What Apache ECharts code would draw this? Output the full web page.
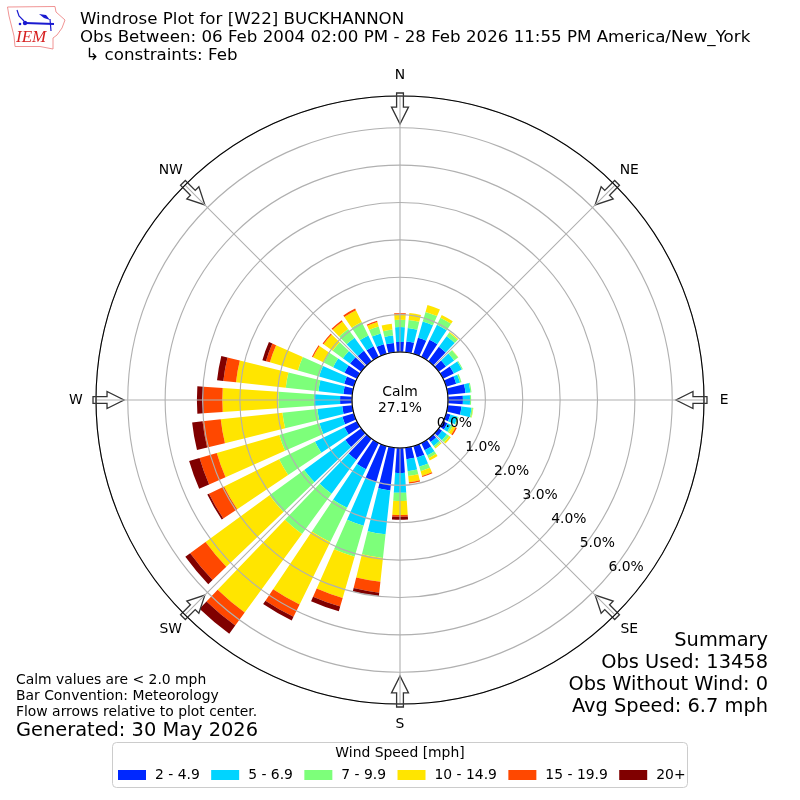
<!DOCTYPE html>
<html><head><meta charset="utf-8">
<style>html,body{margin:0;padding:0;background:#fff}#c{width:800px;height:800px}</style>
<script src="https://cdn.jsdelivr.net/npm/echarts@6/dist/echarts.min.js"></script>
</head><body><div id="c"></div>
<script>
const directions = [0,10,20,30,40,50,60,70,80,90,100,110,120,130,140,150,160,170,180,190,200,210,220,230,240,250,260,270,280,290,300,310,320,330,340,350];
const speedBins = ['2 - 4.9','5 - 6.9','7 - 9.9','10 - 14.9','15 - 19.9','20+'];
const binColors = ['#0028ff','#00d4ff','#7dff7a','#ffe500','#ff4800','#800000'];
const bin1 = [.27,.29,.45,.51,.48,.24,.32,.28,.48,.40,.37,.12,.13,.11,.11,.21,.32,.31,.67,1.15,1.00,.78,.70,.53,.37,.32,.27,.32,.24,.27,.37,.37,.35,.32,.27,.25];
const bin2 = [.40,.36,.45,.45,.35,.27,.24,.11,.13,.19,.27,.20,.11,.16,.13,.16,.25,.32,.53,1.18,1.22,1.15,1.12,1.36,.88,.64,.67,.70,.67,.70,.34,.24,.43,.32,.30,.20];
const bin3 = [.19,.22,.27,.21,.11,.13,.03,.04,.03,.03,.04,.03,.05,.08,.05,.08,.13,.13,.22,.64,.86,1.02,1.34,1.15,1.07,1.12,.94,.95,.88,.59,.28,.34,.29,.40,.19,.16];
const bin4 = [.15,.19,.19,.08,.03,.01,0,0,0,0,.01,0,.08,.05,.03,.07,.13,.17,.37,.64,1.15,1.86,2.60,2.12,1.64,1.74,1.66,1.50,1.34,.78,.32,.30,.25,.35,.13,.16];
const bin5 = [.03,0,0,0,0,0,0,0,0,0,0,0,.04,0,0,0,.03,.03,.05,.29,.24,.37,.43,.51,.45,.48,.49,.51,.34,.11,.03,.03,.04,.05,.03,0];
const bin6 = [0,0,0,0,0,0,0,0,0,0,0,0,0,0,0,0,0,0,.08,.09,.13,.11,.27,.16,.05,.29,.28,.17,.17,.10,0,0,0,0,0,0];
const ringTicks = [0,1,2,3,4,5,6];
const ringLabelAngle = 130;
const compassAngles = [0,45,90,135,180,225,270,315];
const compassNames = ['N','NE','E','SE','S','SW','W','NW'];
const titleLines = ['Windrose Plot for [W22] BUCKHANNON','Obs Between: 06 Feb 2004 02:00 PM - 28 Feb 2026 11:55 PM America/New_York',' \u21b3 constraints: Feb'];
const summaryLines = ['Summary','Obs Used: 13458','Obs Without Wind: 0','Avg Speed: 6.7 mph'];
const noteLines = ['Calm values are < 2.0 mph','Bar Convention: Meteorology','Flow arrows relative to plot center.'];

const FONT = 'DejaVu Sans';
const rMax = 6.85;
const compassLabelRadius = 7.39;
const bins = [bin1,bin2,bin3,bin4,bin5,bin6];
const grey = '#b0b0b0';

const barSeries = bins.map((vals,i)=>({
  type:'bar', name:speedBins[i], coordinateSystem:'polar', stack:'wind',
  barWidth:'77%', z:2, silent:true,
  itemStyle:{color:binColors[i]},
  data:vals.map((v,j)=>[v,directions[j]])
}));

const arrowSeries = {
  type:'custom', coordinateSystem:'polar', z:3, silent:true, clip:false,
  encode:{radius:0,angle:1},
  data:compassAngles.map(a=>[rMax,a]),
  renderItem(params,api){
    const a=api.value(1);
    const base=api.coord([rMax+0.08,a]);
    const tip=api.coord([rMax-0.75,a]);
    const dx=tip[0]-base[0], dy=tip[1]-base[1], L=Math.hypot(dx,dy);
    const ux=dx/L, uy=dy/L, px=-uy, py=ux;
    const sh=3.4, hw=8.5, sl=L-17;
    const P=(al,w)=>[base[0]+ux*al+px*w, base[1]+uy*al+py*w];
    return {type:'polygon',shape:{points:[P(0,-sh),P(sl,-sh),P(sl,-hw),P(L,0),P(sl,hw),P(sl,sh),P(0,sh)]},
      style:{fill:'rgba(255,255,255,0.75)',stroke:'#333',lineWidth:1.3}};
  }
};

const labelBase={show:true,position:'inside',align:'center',verticalAlign:'middle',fontFamily:FONT,fontSize:13.9,color:'#000',opacity:1};
const ringLabelSeries = {
  type:'scatter', coordinateSystem:'polar', z:8, silent:true, symbolSize:0, itemStyle:{opacity:1},
  data:ringTicks.map(t=>[t,ringLabelAngle]),
  label:Object.assign({},labelBase,{offset:[17.5,-7.5],formatter:p=>p.value[0].toFixed(1)+'%'})
};
const compassLabelSeries = {
  type:'scatter', coordinateSystem:'polar', z:8, silent:true, symbolSize:0, itemStyle:{opacity:1}, clip:false,
  data:compassAngles.map(a=>[compassLabelRadius,a]),
  label:Object.assign({},labelBase,{formatter:p=>compassNames[p.dataIndex]})
};

const txt=(x,y,t,size,extra)=>({type:'text',x,y,z:20,silent:true,
  style:Object.assign({text:t,fontFamily:FONT,fontSize:size,fill:'#000',verticalAlign:'middle',align:'left'},extra||{})});

const graphics=[
  {type:'rect',shape:{x:112.5,y:742.5,width:575,height:45,r:4},style:{fill:'#fff',stroke:'#ccc',lineWidth:1},z:1,silent:true},
  txt(400,753.5,'Wind Speed [mph]',13.9,{align:'center'}),
  txt(400,392,'Calm',13.9,{align:'center'}),
  txt(400,408,'27.1%',13.9,{align:'center'}),
  // logo
  {type:'polygon',z:20,silent:true,shape:{points:[[7.5,7],[55,6.5],[56,12],[65,20],[62,28],[57,35],[53,38],[53,49],[40,46.5],[15,46.5],[14,36],[11.5,26],[9,16]]},
    style:{fill:'#fff',stroke:'#e88',lineWidth:0.9}},
  {type:'polyline',z:21,silent:true,shape:{points:[[25,23],[54,24]]},style:{stroke:'#1a1ad0',lineWidth:1.8,fill:'none'}},
  {type:'polyline',z:21,silent:true,shape:{points:[[17,10],[19,16],[24,21]]},style:{stroke:'#1a1ad0',lineWidth:1.2,fill:'none'}},
  {type:'polygon',z:21,silent:true,shape:{points:[[39,14],[46,15],[50,20],[44,18]]},style:{fill:'#1a1ad0'}},
  {type:'polyline',z:21,silent:true,shape:{points:[[50,19],[51,31]]},style:{stroke:'#1a1ad0',lineWidth:1.2,fill:'none'}},
  {type:'circle',z:21,silent:true,shape:{cx:25,cy:23,r:2.2},style:{fill:'#1a1ad0'}},
  {type:'circle',z:21,silent:true,shape:{cx:20,cy:24,r:1.3},style:{fill:'#1a1ad0'}},
  {type:'text',x:16,y:38,z:21,silent:true,style:{text:'IEM',fontFamily:'Liberation Serif',fontStyle:'italic',fontSize:17,fill:'#d62020',verticalAlign:'middle'}}
];
titleLines.forEach((t,i)=>graphics.push(txt(80,20+i*18,t,16.67,{})));
summaryLines.forEach((t,i)=>graphics.push(txt(768,640.5+i*22,t,19.4,{align:'right'})));
noteLines.forEach((t,i)=>graphics.push(txt(16,680.5+i*16,t,13.9,{})));
graphics.push(txt(16,730.5,'Generated: 30 May 2026',19.4,{}));

const chart=echarts.init(document.getElementById('c'),null,{renderer:'canvas'});
chart.setOption({
  animation:false,
  backgroundColor:'#fff',
  textStyle:{fontFamily:FONT},
  polar:{center:[400,400],radius:[48,304]},
  angleAxis:{type:'value',min:0,max:360,interval:45,startAngle:90,clockwise:true,z:5,
    axisLine:{show:true,lineStyle:{color:'#000',width:1.1}},
    axisTick:{show:false},
    splitLine:{show:true,lineStyle:{color:grey,width:1.1}},
    axisLabel:{show:false}
  },
  radiusAxis:{type:'value',min:0,max:rMax,interval:1,z:5,
    axisLine:{show:false},axisTick:{show:false},axisLabel:{show:false},
    splitLine:{show:true,lineStyle:{color:grey,width:1.1}}
  },
  legend:{data:speedBins,left:118,top:768,itemWidth:28,itemHeight:10,itemGap:11.4,icon:'rect',padding:0,selectedMode:false,
    textStyle:{fontFamily:FONT,fontSize:13.9,color:'#000',padding:[0,0,0,4]}},
  graphic:graphics,
  series:[...barSeries,arrowSeries,ringLabelSeries,compassLabelSeries]
});
</script></body></html>
